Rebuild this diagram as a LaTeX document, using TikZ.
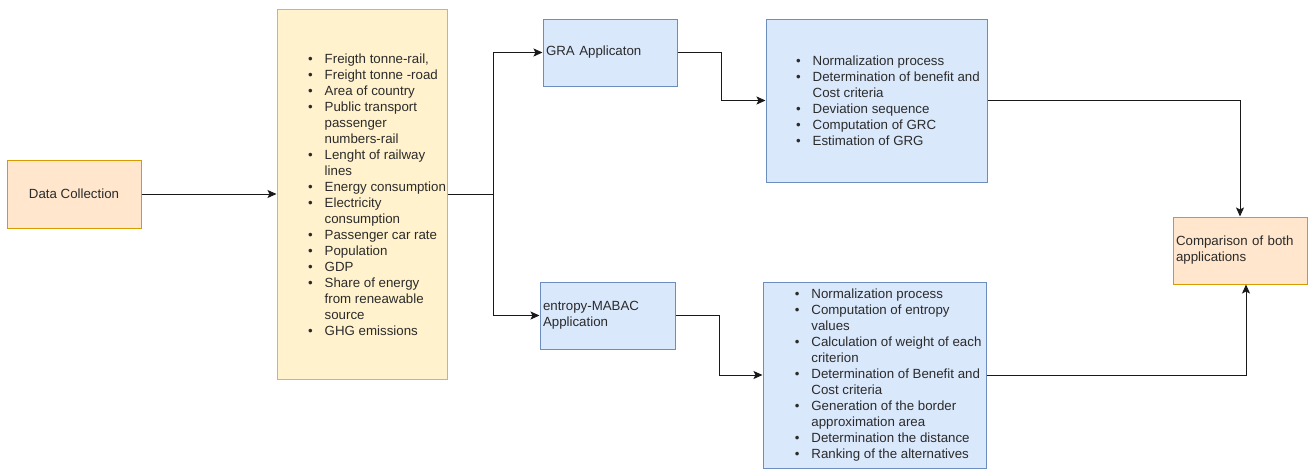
\documentclass[tikz,border=0pt]{standalone}
\usepackage{fontspec}
\setmainfont{Liberation Sans}
\usetikzlibrary{arrows.meta}
\definecolor{orfill}{HTML}{FFE6CC}\definecolor{ordraw}{HTML}{D79B00}
\definecolor{yefill}{HTML}{FFF2CC}\definecolor{yedraw}{HTML}{D6B656}
\definecolor{blfill}{HTML}{DAE8FC}\definecolor{bldraw}{HTML}{6C8EBF}
\definecolor{txt}{HTML}{2B2B2B}
\newcommand{\bitem}[1]{\makebox[16.5pt][l]{\textbullet}#1}
\newcommand{\bcont}[1]{\hspace*{16.5pt}#1}
\tikzset{
  base/.style={inner sep=0pt, line width=1pt, text=txt, font=\fontsize{13.3}{16}\selectfont},
  obox/.style={base, draw=ordraw, fill=orfill},
  ybox/.style={base, draw=yedraw, fill=yefill},
  bbox/.style={base, draw=bldraw, fill=blfill},
  ltext/.style={base, align=left, anchor=west},
  arr/.style={line width=1pt, draw=black!90, -{Stealth[length=9pt,width=8pt,inset=2pt]}}
}
\begin{document}
\begin{tikzpicture}[x=1pt,y=-1pt]
\useasboundingbox (0,0) rectangle (1309,469);
% boxes
\node[obox, minimum width=134, minimum height=68] (dc) at (74,194) {Data Collection};
\node[ybox, minimum width=170, minimum height=370] (data) at (362,194) {};
\node[ltext] (datatext) at (307.7,195) {%
\bitem{Freigth tonne-rail,}\\
\bitem{Freight tonne -road}\\
\bitem{Area of country}\\
\bitem{Public transport}\\
\bcont{passenger}\\
\bcont{numbers-rail}\\
\bitem{Lenght of railway}\\
\bcont{lines}\\
\bitem{Energy consumption}\\
\bitem{Electricity}\\
\bcont{consumption}\\
\bitem{Passenger car rate}\\
\bitem{Population}\\
\bitem{GDP}\\
\bitem{Share of energy}\\
\bcont{from reneawable}\\
\bcont{source}\\
\bitem{GHG emissions}};
\node[bbox, minimum width=134, minimum height=67, text width=128, align=left, inner xsep=3pt] (gra) at (610,52.5) {GRA Applicaton};
\node[bbox, minimum width=135, minimum height=67, text width=129, align=left, inner xsep=3pt] (mab) at (607.5,315.5) {entropy-MABAC\\Application};
\node[bbox, minimum width=221, minimum height=163] (grasteps) at (876.5,100.5) {};
\node[ltext] (grastepstext) at (795.7,101) {%
\bitem{Normalization process}\\
\bitem{Determination of benefit and}\\
\bcont{Cost criteria}\\
\bitem{Deviation sequence}\\
\bitem{Computation of GRC}\\
\bitem{Estimation of GRG}};
\node[bbox, minimum width=223, minimum height=186] (mabsteps) at (874.5,375) {};
\node[ltext] (mabstepstext) at (794.4,375.5) {%
\bitem{Normalization process}\\
\bitem{Computation of entropy}\\
\bcont{values}\\
\bitem{Calculation of weight of each}\\
\bcont{criterion}\\
\bitem{Determination of Benefit and}\\
\bcont{Cost criteria}\\
\bitem{Generation of the border}\\
\bcont{approximation area}\\
\bitem{Determination the distance}\\
\bitem{Ranking of the alternatives}};
\node[obox, minimum width=134, minimum height=67, text width=128, align=left, inner xsep=3pt] (cmp) at (1240,250.5) {Comparison of both\\applications};
% connectors
\draw[arr] (dc.east) -- (data.west);
\draw[arr] (data.east) -- ++(46,0) |- (gra.west);
\draw[arr] (data.east) -- ++(46,0) |- (mab.west);
\draw[arr] (gra.east) -- ++(44,0) |- (grasteps.west);
\draw[arr] (mab.east) -- ++(44,0) |- (mabsteps.west);
\draw[arr] (grasteps.east) -| (cmp.north);
\draw[arr] (mabsteps.east) -| ([xshift=6pt]cmp.south);
\end{tikzpicture}
\end{document}
